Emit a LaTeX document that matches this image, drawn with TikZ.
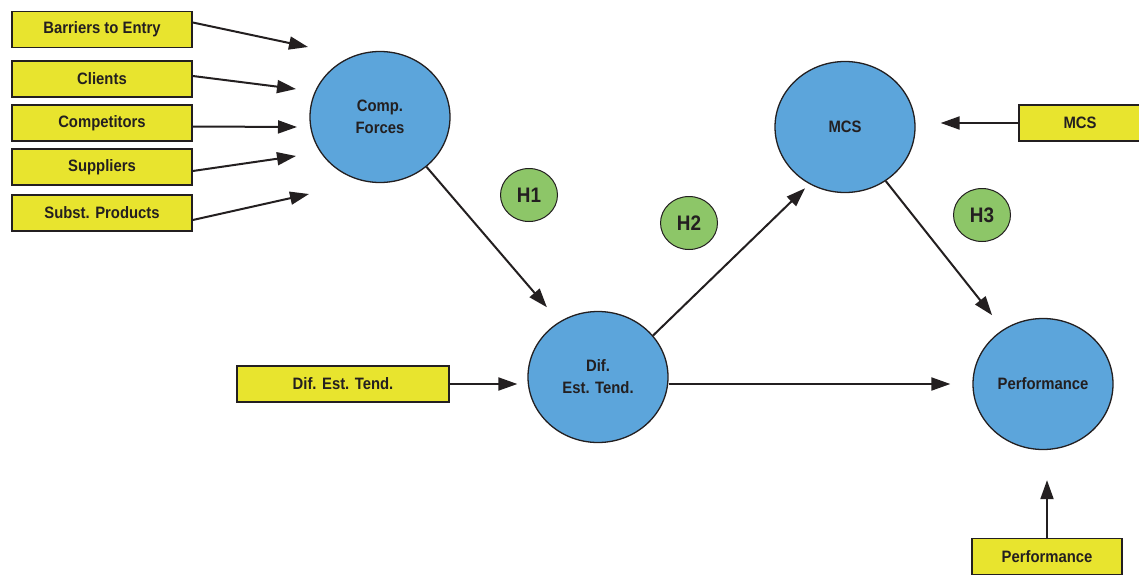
\documentclass[tikz,border=0pt]{standalone}
\usepackage{fontspec}
\setmainfont{Liberation Sans}
\newfontfamily\lblfont[FakeStretch=0.9]{Liberation Sans}
\usetikzlibrary{arrows.meta,shapes.geometric}
\definecolor{boxyellow}{HTML}{E8E42E}
\definecolor{varblue}{HTML}{5CA5DB}
\definecolor{hypgreen}{HTML}{8DC668}
\definecolor{inkgray}{HTML}{231F20}

\begin{document}
\begin{tikzpicture}[x=1pt, y=-1pt,
    indicator/.style={draw=inkgray, fill=boxyellow, line width=1.6pt, minimum width=180pt,
        minimum height=36pt, inner sep=0pt, text=inkgray,
        font={\lblfont\fontsize{16.5}{22}\selectfont\bfseries}},
    construct/.style={ellipse, draw=inkgray, fill=varblue, line width=1.3pt, minimum width=140pt,
        minimum height=131pt, inner sep=0pt, align=center, text=inkgray,
        font={\lblfont\fontsize{16.5}{22}\selectfont\bfseries}},
    hyp/.style={ellipse, draw=inkgray, fill=hypgreen, line width=1pt, minimum width=57pt,
        minimum height=53pt, inner sep=0pt, text=inkgray,
        font={\lblfont\fontsize{21}{24}\selectfont\bfseries}},
    arr/.style={draw=inkgray, line width=2pt, -{Triangle[length=19pt,width=13pt]}}]
    \useasboundingbox (0,0) rectangle (1139,575);

    % constructs
    \node[construct] (comp) at (380,117) {Comp.\\Forces};
    \node[construct] (dif) at (598,377) {Dif.\\Est. Tend.};
    \node[construct] (mcs) at (845,127) {MCS};
    \node[construct] (perf) at (1043,384) {Performance};

    % hypotheses
    \node[hyp] (h1) at (529,195) {H1};
    \node[hyp] (h2) at (689,223) {H2};
    \node[hyp] (h3) at (982,215) {H3};

    % indicators
    \node[indicator] (barriers) at (102,29.5) {Barriers to Entry};
    \node[indicator] (clients) at (102,79) {Clients};
    \node[indicator] (competitors) at (102,123) {Competitors};
    \node[indicator] (suppliers) at (102,167) {Suppliers};
    \node[indicator] (subst) at (102,213) {Subst. Products};
    \node[indicator, minimum width=212pt] (difbox) at (343,384) {Dif. Est. Tend.};
    \node[indicator, minimum width=122pt] (mcsbox) at (1080,123) {MCS};
    \node[indicator, minimum width=150pt] (perfbox) at (1047,556.5) {Performance};

    \coordinate (tipA) at (308,47);
    \coordinate (tipB) at (296,89);
    \coordinate (tipC) at (297,127);
    \coordinate (tipD) at (296,156);
    \coordinate (tipE) at (309,194);

    \draw[arr] ([yshift=7pt]barriers.east) -- (tipA);
    \draw[arr] ([yshift=3pt]clients.east) -- (tipB);
    \draw[arr] ([yshift=-3.5pt]competitors.east) -- (tipC);
    \draw[arr] ([yshift=-4pt]suppliers.east) -- (tipD);
    \draw[arr] ([yshift=-7pt]subst.east) -- (tipE);

    \draw[arr, shorten >=19pt] (comp.-47) -- (dif.125);
    \draw[arr, shorten >=10pt] (difbox.east) -- (difbox.east -| dif.west);
    \draw[arr, shorten >=6pt] (dif.37) -- (mcs.238);
    \draw[arr, shorten >=22pt] (dif.east |- perf.west) -- (perf.west);
    \draw[arr, shorten >=18pt] (mcs.-53) -- (perf.126);
    \draw[arr, shorten >=25pt] (mcsbox.west) -- (mcsbox.west -| mcs.east);
    \draw[arr, shorten >=30pt] (perfbox.north) -- (perfbox.north |- perf.south);
\end{tikzpicture}
\end{document}
